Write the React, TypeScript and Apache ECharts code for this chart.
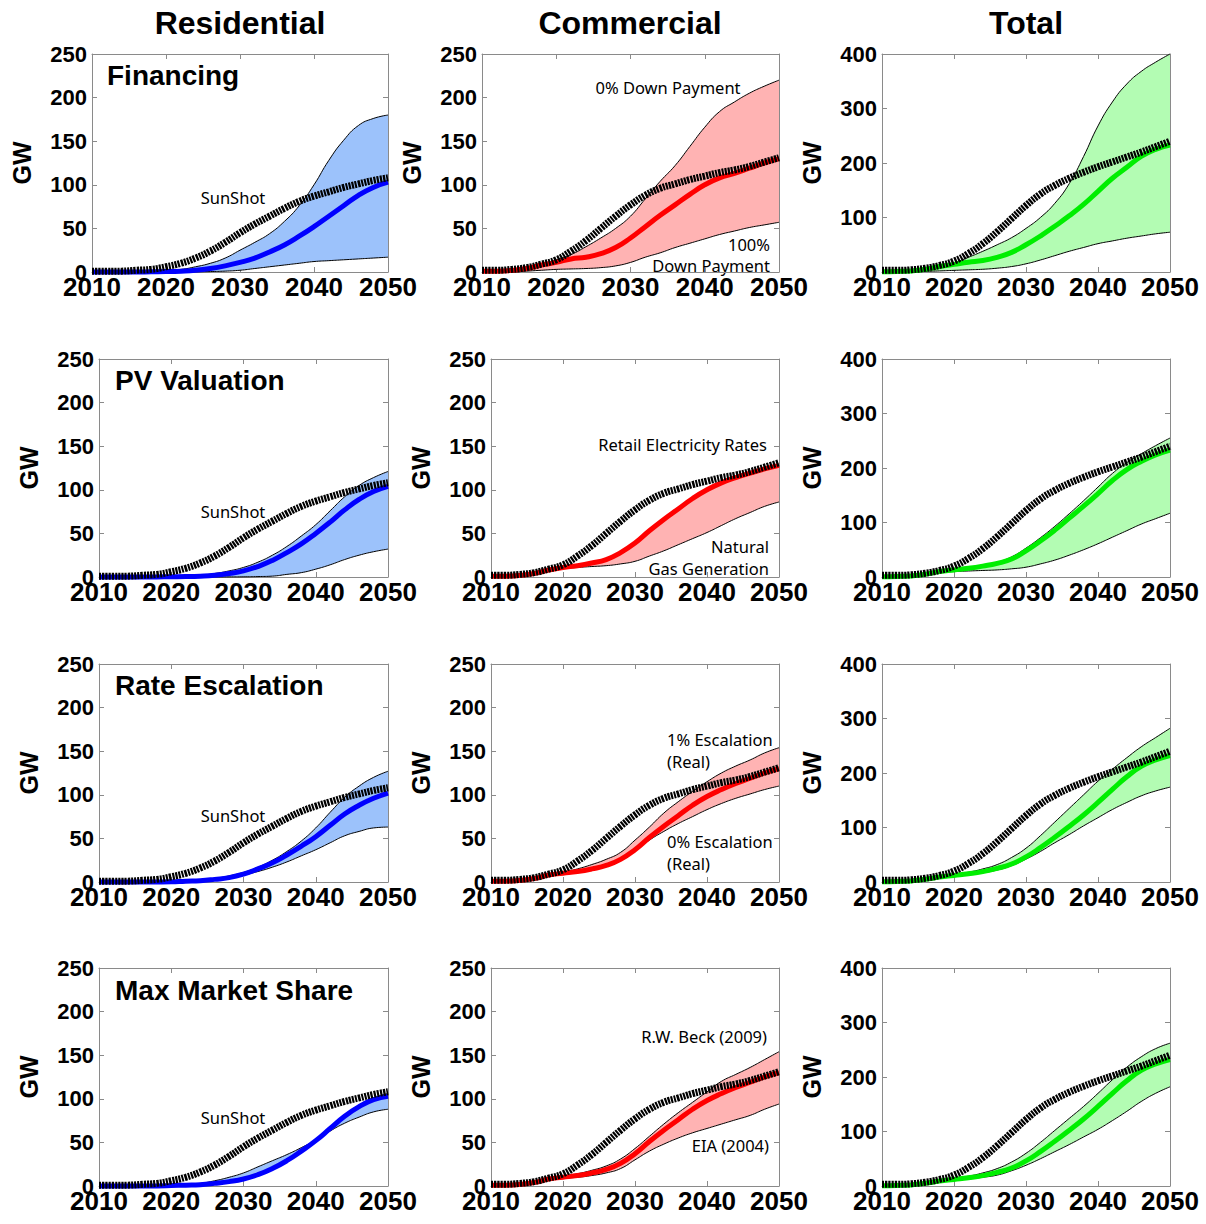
import React, { useEffect, useRef } from "react";
import * as echarts from "echarts";

// ---------- data ----------
const years = ["2010", "2012", "2014", "2016", "2018", "2020", "2022", "2024", "2026", "2028", "2030", "2032", "2034", "2036", "2038", "2040", "2042", "2044", "2046", "2048", "2050"];

const columnTitles = ["Residential", "Commercial", "Total"];
const rowTitles = ["Financing", "PV Valuation", "Rate Escalation", "Max Market Share"];

const sunshotRes = [1, 1, 1, 2, 3, 6, 10, 16, 24, 34, 45, 55, 64, 73, 81, 87, 92, 97, 101, 105, 108];
const sunshotCom = [2, 2, 3, 5, 9, 14, 24, 36, 50, 64, 77, 88, 96, 101, 106, 110, 114, 117, 121, 126, 131];
const sunshotTot = [3, 3, 4, 7, 12, 20, 34, 52, 74, 98, 122, 143, 159, 172, 183, 193, 202, 211, 220, 230, 240];

// Financing
const finResUp = [0, 0, 0, 0.5, 1, 2, 3, 6, 10, 16, 25, 34, 44, 58, 76, 100, 128, 151, 168, 176, 180];
const finResMid = [0, 0, 0, 0, 0.3, 0.5, 1, 2, 4, 7, 11, 16, 23, 31, 41, 52, 64, 76, 88, 97, 103];
const finResLow = [0, 0, 0, 0, 0, 0, 0, 0.2, 0.5, 1, 2, 4, 6, 8, 10, 12, 13, 14, 15, 16, 17];
const finComUp = [0, 0.5, 1, 4, 9, 14, 20, 29, 39, 50, 64, 84, 104, 122, 144, 166, 184, 195, 205, 213, 220];
const finComMid = [1, 1, 2, 4, 8, 11, 15, 17, 21, 28, 39, 52, 65, 77, 89, 100, 108, 113, 119, 125, 130];
const finComLow = [0, 0, 0, 1, 2, 3, 3.5, 4, 5, 7, 11, 17, 22, 28, 33, 38, 43, 47, 51, 54, 57];
const finTotUp = [0, 1, 2, 5, 10, 17, 27, 38, 50, 63, 80, 100, 126, 162, 212, 268, 312, 345, 368, 385, 400];
const finTotMid = [0.5, 1, 2, 5, 10, 14, 18, 21, 27, 36, 50, 66, 84, 103, 124, 148, 172, 192, 212, 225, 233];
const finTotLow = [0, 0, 0, 1, 2, 3, 4, 5, 7, 10, 15, 22, 30, 38, 45, 52, 57, 62, 66, 70, 73];

// PV Valuation
const pvResUp = [0, 0, 0, 0, 0.2, 0.5, 1, 2, 4, 7, 11, 17, 25, 35, 47, 60, 76, 92, 105, 114, 121];
const pvResMid = [0, 0, 0, 0, 0.1, 0.3, 0.5, 1, 2, 4, 7, 12, 19, 28, 38, 50, 63, 77, 89, 98, 104];
const pvResLow = [0, 0, 0, 0, 0, 0, 0, 0, 0, 0.1, 0.2, 0.5, 1, 3, 5, 9, 14, 20, 25, 29, 32];
const pvComUp = [1, 1, 2, 4, 8, 11, 13, 16, 20, 28, 39, 53, 66, 78, 90, 100, 108, 114, 119, 124, 128];
const pvComMid = [1, 1, 2, 4, 8, 11, 13, 16, 20, 28, 39, 53, 66, 78, 90, 100, 108, 114, 119, 124, 128];
const pvComLow = [0, 0.5, 1, 3, 7, 10, 11, 12, 13, 15, 18, 24, 30, 37, 44, 51, 59, 67, 74, 81, 86];
const pvTotUp = [0, 1, 2, 5, 10, 14, 18, 22, 27, 37, 53, 72, 93, 116, 140, 165, 190, 210, 226, 241, 255];
const pvTotMid = [0.5, 1, 2, 5, 10, 13, 16, 20, 25, 33, 48, 66, 86, 108, 130, 153, 177, 197, 212, 224, 233];
const pvTotLow = [0, 0.5, 1, 4, 8, 10, 11, 12, 13, 15, 18, 24, 31, 40, 50, 61, 73, 85, 97, 107, 117];

// Rate Escalation
const reResUp = [0, 0, 0, 0, 0.2, 0.5, 1, 2, 4, 7, 11, 17, 25, 35, 47, 62, 80, 97, 110, 120, 127];
const reResMid = [0, 0, 0, 0, 0.1, 0.3, 1, 1.5, 3, 5, 9, 15, 22, 31, 41, 52, 65, 78, 88, 96, 102];
const reResLow = [0, 0, 0, 0, 0, 0, 0.5, 1, 3, 5, 8, 12, 17, 23, 30, 37, 45, 53, 58, 62, 63];
const reComUp = [0, 1, 2, 4, 8, 11, 15, 20, 26, 34, 48, 63, 79, 92, 104, 115, 125, 133, 140, 148, 154];
const reComMid = [1, 1, 2, 4, 8, 10, 12, 15, 19, 26, 37, 51, 64, 76, 88, 98, 106, 113, 119, 125, 130];
const reComLow = [0, 0.5, 2, 4, 7, 9, 11, 14, 18, 25, 36, 48, 58, 67, 75, 83, 90, 96, 101, 106, 110];
const reTotUp = [0, 1, 2, 5, 10, 14, 18, 24, 32, 45, 62, 85, 110, 135, 160, 185, 207, 228, 248, 265, 282];
const reTotMid = [0.5, 1, 2, 5, 9, 12, 15, 19, 25, 33, 46, 63, 82, 102, 123, 146, 170, 193, 212, 224, 232];
const reTotLow = [0, 0.5, 1, 4, 8, 11, 14, 17, 22, 30, 42, 56, 72, 87, 103, 118, 133, 146, 158, 167, 174];

// Max Market Share
const mmsResUp = [0, 0, 0, 0, 0.5, 1, 2, 3, 6, 10, 15, 22, 29, 36, 44, 53, 63, 72, 79, 85, 88];
const mmsResMid = [0, 0, 0, 0, 0.1, 0.5, 1, 1.5, 3, 5, 8, 13, 20, 29, 40, 52, 66, 80, 91, 99, 103];
const mmsResLow = [0, 0, 0, 0, 0.1, 0.5, 1, 1.5, 3, 5, 8, 13, 20, 29, 40, 52, 66, 81, 93, 101, 106];
const mmsComUp = [0, 1, 2, 4, 8, 11, 14, 18, 23, 31, 43, 57, 71, 84, 96, 108, 120, 128, 136, 145, 154];
const mmsComMid = [1, 1, 2, 4, 8, 10, 12, 15, 19, 26, 37, 51, 64, 76, 88, 98, 106, 113, 119, 125, 130];
const mmsComLow = [0, 0.5, 2, 4, 7, 9, 10, 12, 15, 20, 30, 40, 48, 55, 61, 66, 71, 76, 81, 88, 94];
const mmsTotUp = [0, 1, 2, 5, 10, 14, 18, 24, 32, 44, 60, 80, 102, 124, 146, 170, 195, 218, 237, 252, 262];
const mmsTotMid = [0.5, 1, 2, 5, 9, 12, 15, 19, 25, 33, 46, 63, 82, 102, 123, 146, 170, 193, 212, 224, 232];
const mmsTotLow = [0, 0.5, 1, 4, 8, 11, 13, 16, 20, 28, 38, 50, 63, 76, 90, 104, 120, 137, 155, 170, 182];

const yMaxByCol = [250, 250, 400];
const yStepByCol = [50, 50, 100];

// ---------- panel setup ----------
const panelData = [
  [[finResUp, finResMid, finResLow, sunshotRes], [finComUp, finComMid, finComLow, sunshotCom], [finTotUp, finTotMid, finTotLow, sunshotTot]],
  [[pvResUp, pvResMid, pvResLow, sunshotRes], [pvComUp, pvComMid, pvComLow, sunshotCom], [pvTotUp, pvTotMid, pvTotLow, sunshotTot]],
  [[reResUp, reResMid, reResLow, sunshotRes], [reComUp, reComMid, reComLow, sunshotCom], [reTotUp, reTotMid, reTotLow, sunshotTot]],
  [[mmsResUp, mmsResMid, mmsResLow, sunshotRes], [mmsComUp, mmsComMid, mmsComLow, sunshotCom], [mmsTotUp, mmsTotMid, mmsTotLow, sunshotTot]],
];

const fills = ["#9cc2fb", "#ffb3b3", "#b3fcb3"];
const lineColors = ["#0000ff", "#ff0000", "#00ee00"];

const gridTops = [54, 359, 664, 968];
const gridHeight = 218;
const gridLefts = [
  [92, 482, 882],
  [99, 491, 882],
  [99, 491, 882],
  [99, 491, 882],
];
const gridWidths = [
  [296, 297, 288],
  [289, 288, 288],
  [289, 288, 288],
  [289, 288, 288],
];

const BOLD = '"Liberation Sans", Arial, Helvetica, sans-serif';
const NOTE = '"Noto Sans", "Open Sans", sans-serif';
const frame = "#8a8a8a";

function buildOption() {
  const grid: any[] = [];
  const xAxis: any[] = [];
  const yAxis: any[] = [];
  const series: any[] = [];
  let gi = 0;
  for (let r = 0; r < 4; r++) {
    for (let c = 0; c < 3; c++) {
      const [up, mid, low, ss] = panelData[r][c];
      grid.push({ left: gridLefts[r][c], top: gridTops[r], width: gridWidths[r][c], height: gridHeight });
      const line = { show: true, onZero: false, lineStyle: { color: frame, width: 1 } };
      const xTick = { show: true, inside: true, length: 5, interval: 4, lineStyle: { color: frame, width: 1 } };
      const yTick = { show: true, inside: true, length: 5, lineStyle: { color: frame, width: 1 } };
      xAxis.push({
        type: "category", data: years, boundaryGap: false, gridIndex: gi, position: "bottom",
        axisLine: line, axisTick: xTick, splitLine: { show: false },
        axisLabel: { interval: 4, color: "#000", fontSize: 26, fontWeight: "bold", fontFamily: BOLD, margin: 2 },
      });
      xAxis.push({
        type: "category", data: years, boundaryGap: false, gridIndex: gi, position: "top",
        axisLine: line, axisTick: xTick, splitLine: { show: false }, axisLabel: { show: false },
      });
      yAxis.push({
        type: "value", gridIndex: gi, min: 0, max: yMaxByCol[c], interval: yStepByCol[c], position: "left",
        axisLine: line, axisTick: yTick, splitLine: { show: false },
        axisLabel: { color: "#000", fontSize: 22, fontWeight: "bold", fontFamily: BOLD, margin: 5 },
        name: "GW", nameLocation: "middle", nameGap: 58,
        nameTextStyle: { color: "#000", fontSize: 25, fontWeight: "bold", fontFamily: BOLD },
      });
      yAxis.push({
        type: "value", gridIndex: gi, min: 0, max: yMaxByCol[c], interval: yStepByCol[c], position: "right",
        axisLine: line, axisTick: yTick, splitLine: { show: false }, axisLabel: { show: false },
      });
      const lo = years.map((_, i) => Math.min(up[i], low[i]));
      const diff = years.map((_, i) => Math.abs(up[i] - low[i]));
      const common = {
        type: "line", xAxisIndex: gi * 2, yAxisIndex: gi * 2, showSymbol: false, symbol: "none",
        smooth: 0.5, clip: false, silent: true,
      };
      series.push({ ...common, name: `low${gi}`, data: lo, stack: `band${gi}`, lineStyle: { color: "#000", width: 1 }, z: 2 });
      series.push({
        ...common, name: `band${gi}`, data: diff, stack: `band${gi}`,
        lineStyle: { color: "#000", width: 1 }, areaStyle: { color: fills[c], opacity: 1 }, z: 2,
      });
      series.push({
        ...common, name: `mid${gi}`, data: mid,
        lineStyle: { color: lineColors[c], width: 5 }, z: 3,
      });
      series.push({
        ...common, name: `sunshot${gi}`, data: ss,
        lineStyle: { color: "#000", width: 7, type: [2.2, 1], cap: "butt" }, z: 4,
      });
      gi++;
    }
  }

  const graphic: any[] = [];
  const titleX = [240, 630, 1026];
  columnTitles.forEach((t, i) =>
    graphic.push({
      type: "text", x: titleX[i], y: 23,
      style: { text: t, font: `bold 32px ${BOLD}`, fill: "#000", textAlign: "center", textVerticalAlign: "middle" },
    })
  );
  const rowTitleX = [107, 115, 115, 115];
  const rowTitleY = [75, 380, 685, 990];
  rowTitles.forEach((t, i) =>
    graphic.push({
      type: "text", x: rowTitleX[i], y: rowTitleY[i],
      style: { text: t, font: `bold 28px ${BOLD}`, fill: "#000", textAlign: "left", textVerticalAlign: "middle" },
    })
  );
  const note = (text: string, x: number, y: number, align: string) =>
    graphic.push({
      type: "text", x, y,
      style: { text, font: `16.5px ${NOTE}`, fill: "#000", textAlign: align, textVerticalAlign: "middle" },
    });
  [197, 511, 815, 1117].forEach((y) => note("SunShot", 233, y, "center"));
  note("0% Down Payment", 668, 87, "center");
  note("100%", 770, 244, "right");
  note("Down Payment", 770, 265, "right");
  note("Retail Electricity Rates", 767, 444, "right");
  note("Natural", 769, 546, "right");
  note("Gas Generation", 769, 568, "right");
  note("1% Escalation", 667, 739, "left");
  note("(Real)", 667, 761, "left");
  note("0% Escalation", 667, 841, "left");
  note("(Real)", 667, 863, "left");
  note("R.W. Beck (2009)", 767, 1036, "right");
  note("EIA (2004)", 769, 1145, "right");

  return { animation: false, backgroundColor: "#fff", grid, xAxis, yAxis, series, graphic };
}

export default function App() {
  const ref = useRef<HTMLDivElement>(null);
  useEffect(() => {
    document.body.style.margin = "0";
    const chart = echarts.init(ref.current!, undefined, { renderer: "svg" });
    chart.setOption(buildOption());
    return () => chart.dispose();
  }, []);
  return <div ref={ref} style={{ width: 1206, height: 1224 }} />;
}
